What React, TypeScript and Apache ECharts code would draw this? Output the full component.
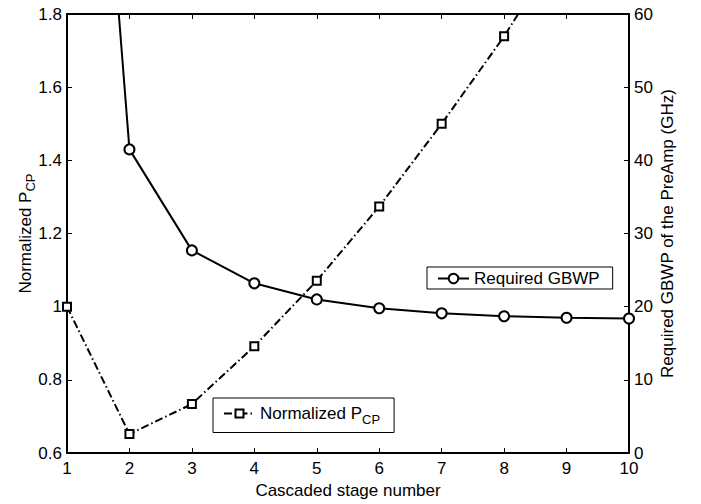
import React, { useEffect, useRef } from "react";
import * as echarts from "echarts";

const stages = [1, 2, 3, 4, 5, 6, 7, 8, 9, 10];
const requiredGbwp = [150, 41.5, 27.7, 23.2, 21.0, 19.8, 19.1, 18.7, 18.5, 18.4];
const normalizedPcp = [1.0, 0.652, 0.734, 0.892, 1.071, 1.274, 1.5, 1.739, 2.01, 2.3];
const leftTicks = { min: 0.6, max: 1.8, interval: 0.2 };
const rightTicks = { min: 0, max: 60, interval: 10 };

const FONT = "'Liberation Sans', Arial, Helvetica, sans-serif";
const FS = 17;

export default function App() {
  const ref = useRef<HTMLDivElement>(null);
  useEffect(() => {
    if (!ref.current) return;
    const chart = echarts.init(ref.current, undefined, { renderer: "svg" });
    const axisLine = { show: true, lineStyle: { color: "#000", width: 2 } };
    const tick = { show: true, inside: true, length: 5, lineStyle: { color: "#000", width: 1 } };
    const label = { color: "#000", fontSize: FS, fontFamily: FONT };
    const rich = {
      a: { fontSize: FS, fontFamily: FONT, color: "#000" },
      s: { fontSize: 13, fontFamily: FONT, color: "#000", padding: [11, 0, 0, 0] },
    };
    chart.setOption({
      animation: false,
      backgroundColor: "#fff",
      textStyle: { fontFamily: FONT, color: "#000" },
      grid: { left: 67, right: 72, top: 14, bottom: 47, containLabel: false },
      xAxis: [
        {
          type: "value",
          position: "bottom",
          min: 1,
          max: 10,
          interval: 1,
          axisLine,
          axisTick: tick,
          splitLine: { show: false },
          axisLabel: { ...label, margin: 7 },
          name: "Cascaded stage number",
          nameLocation: "middle",
          nameGap: 26,
          nameTextStyle: { ...label },
        },
        {
          type: "value",
          position: "top",
          min: 1,
          max: 10,
          interval: 1,
          axisLine,
          axisTick: tick,
          splitLine: { show: false },
          axisLabel: { show: false },
        },
      ],
      yAxis: [
        {
          type: "value",
          position: "left",
          ...leftTicks,
          axisLine,
          axisTick: tick,
          splitLine: { show: false },
          axisLabel: { ...label, margin: 5 },
          name: "{a|Normalized P}{s|CP}",
          nameLocation: "middle",
          nameRotate: 90,
          nameGap: 30,
          nameMoveOverlap: false,
          nameTextStyle: { rich },
        },
        {
          type: "value",
          position: "right",
          ...rightTicks,
          axisLine,
          axisTick: tick,
          splitLine: { show: false },
          axisLabel: { ...label, margin: 5 },
          name: "Required GBWP of the PreAmp (GHz)",
          nameLocation: "middle",
          nameRotate: 90,
          nameGap: 30,
          nameMoveOverlap: false,
          nameTextStyle: { ...label },
        },
      ],
      legend: [
        {
          data: ["Required GBWP"],
          left: 427,
          top: 267,
          backgroundColor: "#fff",
          borderColor: "#000",
          borderWidth: 1,
          borderRadius: 0,
          padding: [3, 13, 2, 10],
          itemWidth: 31,
          itemHeight: 12,
          textStyle: { ...label },
        },
        {
          data: ["Normalized PCP"],
          left: 213,
          top: 398,
          backgroundColor: "#fff",
          borderColor: "#000",
          borderWidth: 1,
          borderRadius: 0,
          padding: [7, 14, 7, 10],
          itemWidth: 31,
          itemHeight: 10,
          formatter: () => "{a|Normalized P}{s|CP}",
          textStyle: { ...label, rich },
        },
      ],
      series: [
        {
          name: "Required GBWP",
          type: "line",
          xAxisIndex: 0,
          yAxisIndex: 1,
          data: stages.map((s, i) => [s, requiredGbwp[i]]),
          clip: true,
          symbol: "emptyCircle",
          symbolSize: 10,
          showAllSymbol: true,
          lineStyle: { color: "#000", width: 2 },
          itemStyle: { color: "#000", borderColor: "#000", borderWidth: 2 },
          z: 3,
        },
        {
          name: "Normalized PCP",
          type: "line",
          xAxisIndex: 0,
          yAxisIndex: 0,
          data: stages.map((s, i) => [s, normalizedPcp[i]]),
          clip: true,
          symbol: "emptyRect",
          symbolSize: 8,
          showAllSymbol: true,
          lineStyle: { color: "#000", width: 2, type: [8, 3, 1.5, 3] },
          itemStyle: { color: "#000", borderColor: "#000", borderWidth: 2 },
          z: 2,
        },
      ],
    });
    return () => chart.dispose();
  }, []);
  return <div ref={ref} style={{ width: 701, height: 504, position: "absolute", left: 0, top: 0 }} />;
}
